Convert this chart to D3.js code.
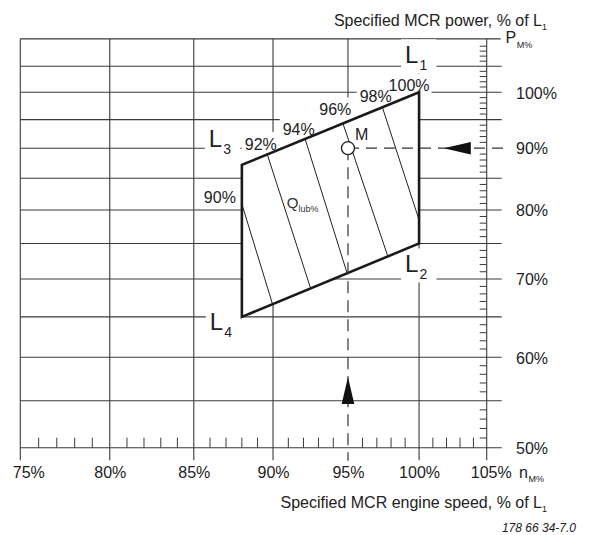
<!DOCTYPE html>
<html><head><meta charset="utf-8">
<script src="https://cdn.jsdelivr.net/npm/d3@7"></script>
<style>
body{margin:0;background:#fff}
svg{display:block}
text{font-family:"Liberation Sans",Arial,Helvetica,sans-serif;fill:#222}
</style>
</head><body>
<svg id="chart" width="589" height="535"></svg>
<script>
// ---------- data ----------
const speedTicks = [75, 80, 85, 90, 95, 100, 105];          // engine speed, % of L1
const powerTicks = [50, 60, 70, 80, 90, 100];               // labelled power values, % of L1
const powerGrid = [50, 55, 60, 65, 70, 75, 80, 85, 90, 95, 100, 105];
const powerFrameTop = 110.5;
const cornerNames = ["L1", "L2", "L4", "L3"];
const cornerSpeed = [100, 100, 88, 88];
const cornerPower = [100, 75, 65, 87.2];
const lubLabels = ["90%", "92%", "94%", "96%", "98%"];
const lubTopSpeed = [88, 89.66, 92.15, 94.61, 97.41];
const lubTopPower = [80.9, 88.68, 91.23, 94.67, 97.04];
const lubBottomSpeed = [89.92, 92.44, 94.91, 97.7, 100];
const lubBottomPower = [66.97, 68.96, 71.0, 73.59, 78.47];
const cornerLubLabel = "100%";
const mSpeed = 95, mPower = 90;
const arrowLeftTipSpeed = 101.8;
const arrowUpTipPower = 57.7;
const qLabelSpeed = 90.9, qLabelPower = 80.3;

// ---------- scales ----------
const svg = d3.select("#chart");
const x = d3.scaleLog().domain([75, 105]).range([20.3, 486.7]);
const y = d3.scaleSymlog().constant(10).domain([50, 100]).range([447.7, 92.3]);

const xL = x(75), xR = x(105), yB = y(50), yT = y(powerFrameTop);
const gridColor = "#3a3a3a";

// layers
const gGrid = svg.append("g");
const gBoxes = svg.append("g");
const gPoly = svg.append("g");
const gMarks = svg.append("g");
const gText = svg.append("g");

// ---------- grid ----------
gGrid.selectAll("line.h").data(powerGrid).join("line")
  .attr("x1", xL)
  .attr("x2", d => d === mPower ? x(mSpeed) : xR + 15)
  .attr("y1", d => y(d)).attr("y2", d => y(d))
  .attr("stroke", gridColor).attr("stroke-width", 1.1);
gGrid.append("line").attr("x1", xL).attr("x2", xR + 14).attr("y1", yT).attr("y2", yT)
  .attr("stroke", gridColor).attr("stroke-width", 1.1);
gGrid.selectAll("line.v").data(speedTicks).join("line")
  .attr("x1", d => x(d)).attr("x2", d => x(d))
  .attr("y1", yT)
  .attr("y2", d => d === mSpeed ? y(mPower) : yB + 12.5)
  .attr("stroke", gridColor).attr("stroke-width", 1.1);
gGrid.selectAll("line.mb").data(d3.range(76, 105).filter(v => v % 5)).join("line")
  .attr("x1", d => x(d)).attr("x2", d => x(d))
  .attr("y1", yB).attr("y2", yB - 10)
  .attr("stroke", gridColor).attr("stroke-width", 1);
gGrid.selectAll("line.mr").data(d3.range(51, 110).filter(v => v % 5)).join("line")
  .attr("x1", xR - 7).attr("x2", xR)
  .attr("y1", d => y(d)).attr("y2", d => y(d))
  .attr("stroke", gridColor).attr("stroke-width", 1);

// ---------- layout polygon ----------
const corners = cornerNames.map((n, i) => ({name: n, s: cornerSpeed[i], p: cornerPower[i]}));
const polyPts = corners.map(c => [x(c.s), y(c.p)]);
const polyPath = "M" + polyPts.map(p => p.join(",")).join("L") + "Z";
gPoly.append("path").attr("d", polyPath).attr("fill", "#fff").attr("stroke", "none");
svg.append("clipPath").attr("id", "polyClip").append("path").attr("d", polyPath);

const lub = lubLabels.map((l, i) => ({
  label: l,
  x1: x(lubTopSpeed[i]), y1: y(lubTopPower[i]),
  x2: x(lubBottomSpeed[i]), y2: y(lubBottomPower[i]),
  onLeft: lubTopSpeed[i] === cornerSpeed[3]
}));
gPoly.append("g").attr("clip-path", "url(#polyClip)")
  .selectAll("line").data(lub).join("line")
  .attr("x1", d => d.x1 + (d.x1 - d.x2) * 0.2)
  .attr("y1", d => d.y1 + (d.y1 - d.y2) * 0.2)
  .attr("x2", d => d.x2 + (d.x2 - d.x1) * 0.2)
  .attr("y2", d => d.y2 + (d.y2 - d.y1) * 0.2)
  .attr("stroke", "#222").attr("stroke-width", 1);
gPoly.append("path").attr("d", polyPath).attr("fill", "none")
  .attr("stroke", "#1a1a1a").attr("stroke-width", 2.6).attr("stroke-linejoin", "miter");

// ---------- M point dashed lines ----------
const mx = x(mSpeed), my = y(mPower);
gMarks.append("line").attr("x1", mx).attr("x2", xR + 22).attr("y1", my).attr("y2", my)
  .attr("stroke", "#333").attr("stroke-width", 1.2).attr("stroke-dasharray", "11,7");
gMarks.append("line").attr("x1", mx).attr("x2", mx).attr("y1", my).attr("y2", yB + 13)
  .attr("stroke", "#333").attr("stroke-width", 1.2).attr("stroke-dasharray", "12,7");
const aLen = 27, aHalf = 6.3;
const lt = x(arrowLeftTipSpeed);
gMarks.append("path").attr("d", `M${lt},${my}L${lt + aLen},${my - aHalf}L${lt + aLen},${my + aHalf}Z`).attr("fill", "#111");
const ut = y(arrowUpTipPower);
gMarks.append("path").attr("d", `M${mx},${ut}L${mx - aHalf},${ut + aLen}L${mx + aHalf},${ut + aLen}Z`).attr("fill", "#111");
gMarks.append("circle").attr("cx", mx).attr("cy", my).attr("r", 6.5)
  .attr("fill", "#fff").attr("stroke", "#222").attr("stroke-width", 1.3);

// ---------- labels with white background (boxes under the polygon) ----------
function boxed(sel, pad) {
  const b = sel.node().getBBox();
  gBoxes.append("rect")
    .attr("x", b.x - pad[3]).attr("y", b.y - pad[0])
    .attr("width", b.width + pad[1] + pad[3]).attr("height", b.height + pad[0] + pad[2])
    .attr("fill", "#fff");
}
lub.forEach(d => {
  const t = gText.append("text").attr("font-size", 16).text(d.label);
  if (d.onLeft) {
    t.attr("x", d.x1 - 6).attr("y", d.y1 - 1).attr("text-anchor", "end");
  } else {
    t.attr("x", d.x1 - 7).attr("y", d.y1 - 6).attr("text-anchor", "middle");
    boxed(t, [4, 3, 6, 3]);
  }
});
{
  const c = corners[0];
  const t = gText.append("text").attr("font-size", 16).attr("text-anchor", "middle")
    .attr("x", x(c.s) - 10).attr("y", y(c.p) - 1.6).text(cornerLubLabel);
  boxed(t, [3, 2, 2, 2]);
}
const lOffsets = {L1: [-14, -29], L2: [-14, 29], L3: [-33, -18], L4: [-32, 13]};
corners.forEach(c => {
  const o = lOffsets[c.name];
  const t = gText.append("text").attr("x", x(c.s) + o[0]).attr("y", y(c.p) + o[1])
    .attr("font-size", 24);
  t.append("tspan").text(c.name[0]);
  t.append("tspan").attr("font-size", 14).attr("dx", 1).attr("dy", 7).text(c.name.slice(1));
  boxed(t, [2, 9, 0, 4]);
});

{
  const t = gText.append("text").attr("x", x(qLabelSpeed)).attr("y", y(qLabelPower))
    .attr("font-size", 15).style("fill", "#333");
  t.append("tspan").text("Q");
  t.append("tspan").attr("font-size", 9).attr("dy", 4).text("lub%");
}
gText.append("text").attr("x", mx + 7).attr("y", my - 8).attr("font-size", 16).text("M");

// ---------- axes labels ----------
const xAxis = gText.append("g").attr("transform", `translate(0,${yB})`)
  .call(d3.axisBottom(x).tickValues(speedTicks).tickFormat(d => d + "%").tickSize(0).tickPadding(19.2));
xAxis.select(".domain").remove();
xAxis.selectAll("text").attr("font-size", 16).attr("font-family", null).attr("fill", null)
  .attr("dx", d => d === 75 ? 8 : d === 105 ? 4 : 0);

const yAxis = gText.append("g").attr("transform", `translate(${xR},0)`)
  .call(d3.axisRight(y).tickValues(powerTicks).tickFormat(d => d + "%").tickSize(0).tickPadding(29.3));
yAxis.select(".domain").remove();
yAxis.selectAll("text").attr("font-size", 16).attr("font-family", null).attr("fill", null).attr("dy", "0.36em");

{
  const t = gText.append("text").attr("x", 505.5).attr("y", 43.3).attr("font-size", 16);
  t.append("tspan").text("P");
  t.append("tspan").attr("font-size", 9).attr("dx", 0.5).attr("dy", 4.5).text("M%");
  const n = gText.append("text").attr("x", 519).attr("y", 477.7).attr("font-size", 16);
  n.append("tspan").text("n");
  n.append("tspan").attr("font-size", 9).attr("dx", 0.5).attr("dy", 4.5).text("M%");
}
{
  const t = gText.append("text").attr("x", 547).attr("y", 26).attr("text-anchor", "end").attr("font-size", 16);
  t.append("tspan").text("Specified MCR power, % of L");
  t.append("tspan").attr("font-size", 9).attr("dy", 4).text("1");
  const b = gText.append("text").attr("x", 547).attr("y", 508.3).attr("text-anchor", "end").attr("font-size", 16);
  b.append("tspan").text("Specified MCR engine speed, % of L");
  b.append("tspan").attr("font-size", 9).attr("dy", 4).text("1");
  gText.append("text").attr("x", 576).attr("y", 531.7).attr("text-anchor", "end")
    .attr("font-size", 12).attr("font-style", "italic").text("178 66 34-7.0");
}
</script>
</body></html>
